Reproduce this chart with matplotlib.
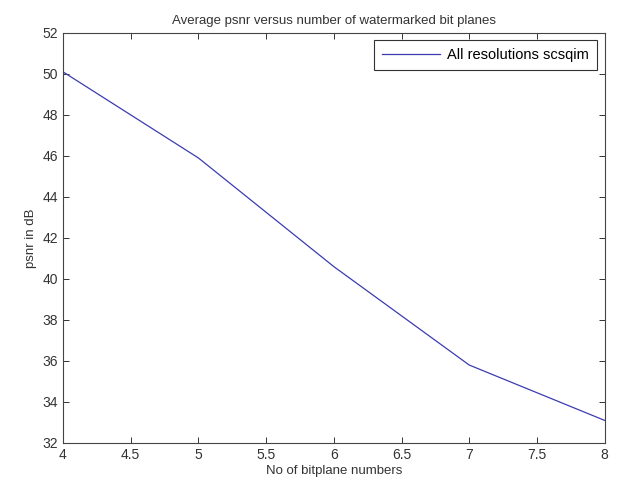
import matplotlib
matplotlib.use('Agg')
import matplotlib.pyplot as plt

# average psnr per number of watermarked bit planes
bitplanes = [4, 5, 6, 7, 8]
psnr = [50.1, 45.9, 40.6, 35.8, 33.1]
xticks = [4, 4.5, 5, 5.5, 6, 6.5, 7, 7.5, 8]
yticks = [32, 34, 36, 38, 40, 42, 44, 46, 48, 50, 52]

plt.rcParams['font.family'] = ['Liberation Sans', 'DejaVu Sans']

fig = plt.figure(figsize=(6.17, 4.90), dpi=100)
ax = fig.add_axes([0.102, 0.096, 0.878, 0.837])

ax.plot(bitplanes, psnr, color='#3c3cb0', lw=0.9, label='All resolutions scsqim')

ax.set_xlim(4, 8)
ax.set_ylim(32, 52)
ax.set_xticks(xticks)
ax.set_xticklabels(['4', '4.5', '5', '5.5', '6', '6.5', '7', '7.5', '8'])
ax.set_yticks(yticks)
ax.tick_params(direction='in', top=True, right=True, length=4,
               labelsize=10, colors='#333333', width=0.7)
for sp in ax.spines.values():
    sp.set_color('#444444')
    sp.set_linewidth(0.8)

ax.set_title('Average psnr versus number of watermarked bit planes',
             fontsize=9.5, color='#333333', pad=6)
ax.set_xlabel('No of bitplane numbers', fontsize=9.5, color='#333333', labelpad=2)
ax.set_ylabel('psnr in dB', fontsize=9.5, color='#333333', labelpad=4)

leg = ax.legend(loc='upper right', fontsize=10.5, fancybox=False, framealpha=1,
                edgecolor='#333333', borderaxespad=0.5, handlelength=4.0,
                borderpad=0.55, handletextpad=0.5)
leg.get_frame().set_linewidth(0.8)

fig.savefig('out.png', dpi=100)
